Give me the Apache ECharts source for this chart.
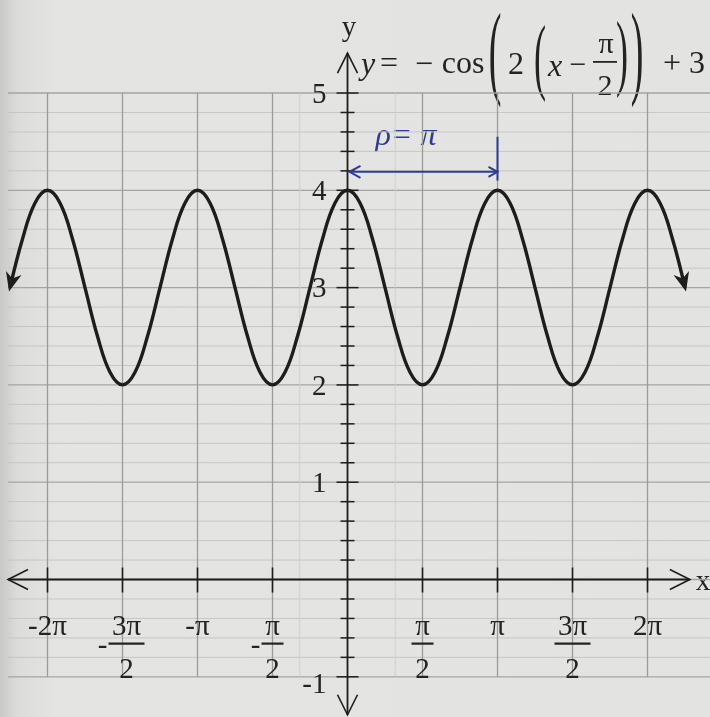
<!DOCTYPE html>
<html><head><meta charset="utf-8">
<script src="https://cdn.jsdelivr.net/npm/echarts@6/dist/echarts.min.js"></script>
<style>html,body{margin:0;padding:0;background:#e3e3e1}#c{width:710px;height:717px}</style>
</head><body><div id="c"></div>
<script>
const PI = Math.PI;
const FONT = 'Liberation Serif';
const INK = '#1d1d1d';
const TEXT = '#232323';
const BLUE = '#2e3b96';

// visible value window of the photographed sheet
const X_RANGE = [-7.278, 7.592];
const Y_RANGE = [-1.413, 5.956];

// hand-drawn curve: x in units of pi/12, y values
const CURVE_X12 = [-27,-26,-25,-24,-23,-22,-21,-20,-19,-18,-17,-16,-15,-14,-13,-12,-11,-10,-9,-8,-7,-6,-5,-4,-3,-2,-1,0,
                   1,2,3,4,5,6,7,8,9,10,11,12,13,14,15,16,17,18,19,20,21,22,23,24,25,26,27];
const CURVE_Y = [3,3.5,3.87,4,3.87,3.5,3,2.5,2.13,2,2.13,2.5,3,3.5,3.87,4,3.87,3.5,3,2.5,2.13,2,2.13,2.5,3,3.5,3.87,4,
                 3.87,3.5,3,2.5,2.13,2,2.13,2.5,3,3.5,3.87,4,3.87,3.5,3,2.5,2.13,2,2.13,2.5,3,3.5,3.87,4,3.87,3.5,3];

// x ticks in units of pi/2 and their labels
const X_TICKS_HALF_PI = [-4,-3,-2,-1,1,2,3,4];
const X_TICK_LABELS = ['-2π','-3π/2','-π','-π/2','π/2','π','3π/2','2π'];

// y ticks
const Y_TICK_MAJOR = [-1,1,2,3,4,5];
const Y_TICK_LABELS = ['-1','1','2','3','4','5'];
const Y_TICK_MINOR = [-0.8,-0.6,-0.4,-0.2,0.2,0.4,0.6,0.8,1.2,1.4,1.6,1.8,2.2,2.4,2.6,2.8,
                      3.2,3.4,3.6,3.8,4.2,4.4,4.6,4.8];

// graph-paper lines
const V_GRID_HALF_PI = [-4,-3,-2,-1,1,2,3,4];
const V_GRID_FAINT = [-1,1];
const H_GRID_MAJOR = [-1,0,1,2,3,4,5];
const H_GRID_MINOR = Y_TICK_MINOR;
const H_GRID_X0 = -7.11;

// drawn axes spans
const X_AXIS_SPAN = [-7.11, 7.17];
const Y_AXIS_SPAN = [-1.39, 5.41];

// period annotation (x in units of pi)
const PERIOD_SPAN = [0, 1];
const PERIOD_Y = 4.19;
const PERIOD_TICK = [4.1, 4.55];

const chart = echarts.init(document.getElementById('c'), null, {width:710, height:717});

function lineEl(a, b, stroke, w){
  return {type:'line', shape:{x1:a[0],y1:a[1],x2:b[0],y2:b[1]}, style:{stroke:stroke, lineWidth:w}};
}
function chevron(tip, dir, L, W, stroke, w){
  const n = [-dir[1], dir[0]];
  return {type:'polyline', shape:{points:[
    [tip[0]-L*dir[0]+W*n[0], tip[1]-L*dir[1]+W*n[1]], tip,
    [tip[0]-L*dir[0]-W*n[0], tip[1]-L*dir[1]-W*n[1]]]},
    style:{stroke:stroke, lineWidth:w, fill:null}};
}
function unit(a, b){ const dx=b[0]-a[0], dy=b[1]-a[1]; const l=Math.hypot(dx,dy); return [dx/l, dy/l]; }
function txt(x, y, s, font, extra){
  return Object.assign({type:'text', x:x, y:y, style:{text:s, font:font, fill:TEXT, textAlign:'center', textVerticalAlign:'middle'}}, extra||{});
}

// grid line data
const gridData = [];
H_GRID_MINOR.forEach(y => gridData.push([H_GRID_X0, y, X_RANGE[1], y, 0]));
H_GRID_MAJOR.forEach(y => gridData.push([H_GRID_X0, y, X_RANGE[1], y, 1]));
V_GRID_HALF_PI.forEach(k => gridData.push([k*PI/2, -1, k*PI/2, 5, 2]));
V_GRID_FAINT.forEach(x => gridData.push([x, -1, x, 5, 3]));
const GRID_COLORS = ['#c6c6c4', '#a5a5a3', '#9b9b99', '#cfcfcd'];
const GRID_WIDTHS = [1, 1.3, 1.3, 1];

const curveData = CURVE_X12.map((k, i) => [k*PI/12, CURVE_Y[i]]);
const n = curveData.length;
const arrowData = [
  [curveData[0][0], curveData[0][1], curveData[1][0], curveData[1][1]],
  [curveData[n-1][0], curveData[n-1][1], curveData[n-2][0], curveData[n-2][1]]
];

const xTickData = X_TICKS_HALF_PI.map(k => [k*PI/2, 0]);
const yTickData = Y_TICK_MAJOR.map(v => [0, v, 1]).concat(Y_TICK_MINOR.map(v => [0, v, 0]));

const LBL_FONT = '29px ' + FONT;
function xLabelEls(cx, ay, label){
  const els = [];
  if (label.indexOf('/') < 0){
    els.push(txt(cx, ay+48, label, LBL_FONT));
  } else {
    let s = label, neg = false;
    if (s[0] === '-'){ neg = true; s = s.slice(1); }
    const parts = s.split('/');
    const wide = parts[0].length > 1;
    const bw = wide ? 36 : 22;
    const bx = cx + (wide && neg ? 4 : 0);
    els.push(txt(bx, ay+48, parts[0], LBL_FONT));
    els.push({type:'rect', shape:{x:bx-bw/2, y:ay+63, width:bw, height:2.2}, style:{fill:TEXT}});
    els.push(txt(bx, ay+91, parts[1], LBL_FONT));
    if (neg) els.push(txt(bx-bw/2-6, ay+67, '-', LBL_FONT));
  }
  return els;
}

const option = {
  backgroundColor: new echarts.graphic.LinearGradient(0,0,1,0,[
    {offset:0, color:'#c8c9c7'}, {offset:0.025, color:'#dcdcda'}, {offset:0.08, color:'#e4e4e2'}, {offset:1, color:'#e3e3e1'}]),
  animation: false,
  grid: {left:0, right:0, top:0, bottom:0},
  xAxis: {type:'value', min:X_RANGE[0], max:X_RANGE[1], axisLine:{show:false}, axisTick:{show:false}, axisLabel:{show:false}, splitLine:{show:false}},
  yAxis: {type:'value', min:Y_RANGE[0], max:Y_RANGE[1], axisLine:{show:false}, axisTick:{show:false}, axisLabel:{show:false}, splitLine:{show:false}},
  series: [
    { type:'custom', name:'paper', z:1, silent:true, data:gridData, encode:{x:[0,2], y:[1,3]},
      renderItem:(p, api) => {
        const a = api.coord([api.value(0), api.value(1)]);
        const b = api.coord([api.value(2), api.value(3)]);
        const k = api.value(4);
        return lineEl(a, b, GRID_COLORS[k], GRID_WIDTHS[k]);
      }},
    { type:'custom', name:'axes', z:3, silent:true,
      data:[[X_AXIS_SPAN[0],0,X_AXIS_SPAN[1],0],[0,Y_AXIS_SPAN[0],0,Y_AXIS_SPAN[1]]], encode:{x:[0,2], y:[1,3]},
      renderItem:(p, api) => {
        const a = api.coord([api.value(0), api.value(1)]);
        const b = api.coord([api.value(2), api.value(3)]);
        const u = unit(a, b);
        return {type:'group', children:[
          lineEl(a, b, INK, 1.8),
          chevron(b, u, 20, 10, INK, 1.6),
          chevron(a, [-u[0], -u[1]], 20, 10, INK, 1.6)
        ]};
      }},
    { type:'custom', name:'xticks', z:3, silent:true, data:xTickData,
      renderItem:(p, api) => {
        const c = api.coord([api.value(0), api.value(1)]);
        return {type:'group', children:[
          lineEl([c[0], c[1]-12], [c[0], c[1]+13], INK, 1.6),
          ...xLabelEls(c[0], c[1], X_TICK_LABELS[p.dataIndex])
        ]};
      }},
    { type:'custom', name:'yticks', z:3, silent:true, data:yTickData,
      renderItem:(p, api) => {
        const c = api.coord([api.value(0), api.value(1)]);
        const major = api.value(2) === 1;
        const h = major ? 11 : 7;
        const ch = [lineEl([c[0]-h, c[1]], [c[0]+h, c[1]], INK, 1.5)];
        if (major){
          const t = Y_TICK_LABELS[p.dataIndex];
          ch.push({type:'text', x:c[0]-21, y:c[1]+(t==='-1'?9:2), style:{text:t, font:LBL_FONT, fill:TEXT, textAlign:'right', textVerticalAlign:'middle'}});
        }
        return {type:'group', children:ch};
      }},
    { type:'line', name:'curve', z:4, data:curveData, smooth:0.4, symbol:'none', silent:true,
      lineStyle:{color:INK, width:3.4}},
    { type:'custom', name:'curveArrows', z:5, silent:true, data:arrowData, encode:{x:[0,2], y:[1,3]},
      renderItem:(p, api) => {
        const tip = api.coord([api.value(0), api.value(1)]);
        const prev = api.coord([api.value(2), api.value(3)]);
        const u = unit(prev, tip);
        const nn = [-u[1], u[0]];
        const L = 19, W = 8;
        const tipOut = [tip[0]+u[0]*4, tip[1]+u[1]*4];
        return {type:'polygon', shape:{points:[tipOut,
          [tipOut[0]-L*u[0]+W*nn[0], tipOut[1]-L*u[1]+W*nn[1]],
          [tipOut[0]-L*0.7*u[0], tipOut[1]-L*0.7*u[1]],
          [tipOut[0]-L*u[0]-W*nn[0], tipOut[1]-L*u[1]-W*nn[1]]]}, style:{fill:INK}};
      }},
    { type:'custom', name:'period', z:5, silent:true,
      data:[[PERIOD_SPAN[0]*PI, PERIOD_Y, PERIOD_SPAN[1]*PI, PERIOD_Y]], encode:{x:[0,2], y:[1,3]},
      renderItem:(p, api) => {
        const a = api.coord([api.value(0), api.value(1)]);
        const b = api.coord([api.value(2), api.value(3)]);
        const t1 = api.coord([api.value(2), PERIOD_TICK[0]]);
        const t2 = api.coord([api.value(2), PERIOD_TICK[1]]);
        const u = unit(a, b);
        return {type:'group', children:[
          lineEl([a[0]+2, a[1]], b, BLUE, 2),
          chevron([a[0]+2, a[1]], [-u[0], -u[1]], 11, 6, BLUE, 2),
          chevron(b, u, 9, 5, BLUE, 2),
          lineEl(t1, t2, BLUE, 2)
        ]};
      }}
  ],
  graphic: [
    txt(349, 28, 'y', '29px '+FONT),
    txt(703, 582, 'x', '29px '+FONT),
    txt(368, 66, 'y', 'italic 32px '+FONT),
    txt(389, 65, '=', '32px '+FONT),
    txt(424, 66, '−', '32px '+FONT),
    txt(463, 65, 'cos', '32px '+FONT),
    txt(495, 58, '(', '38px '+FONT, {scaleY:2.75}),
    txt(516, 66, '2', '32px '+FONT),
    txt(540, 62, '(', '36px '+FONT, {scaleY:2.35}),
    txt(555, 68, 'x', 'italic 32px '+FONT),
    txt(578, 66, '−', '30px '+FONT),
    txt(606, 45, 'π', '30px '+FONT),
    {type:'rect', shape:{x:593, y:61, width:24, height:1.8}, style:{fill:TEXT}},
    txt(605, 87, '2', '30px '+FONT),
    txt(622, 58, ')', '36px '+FONT, {scaleY:2.35}),
    txt(637, 58, ')', '38px '+FONT, {scaleY:2.75}),
    txt(684, 65, '+ 3', '32px '+FONT),
    {type:'text', x:406, y:137, style:{text:'ρ= π', font:'italic 32px '+FONT, fill:BLUE, textAlign:'center', textVerticalAlign:'middle'}}
  ]
};
chart.setOption(option);
</script>
</body></html>
